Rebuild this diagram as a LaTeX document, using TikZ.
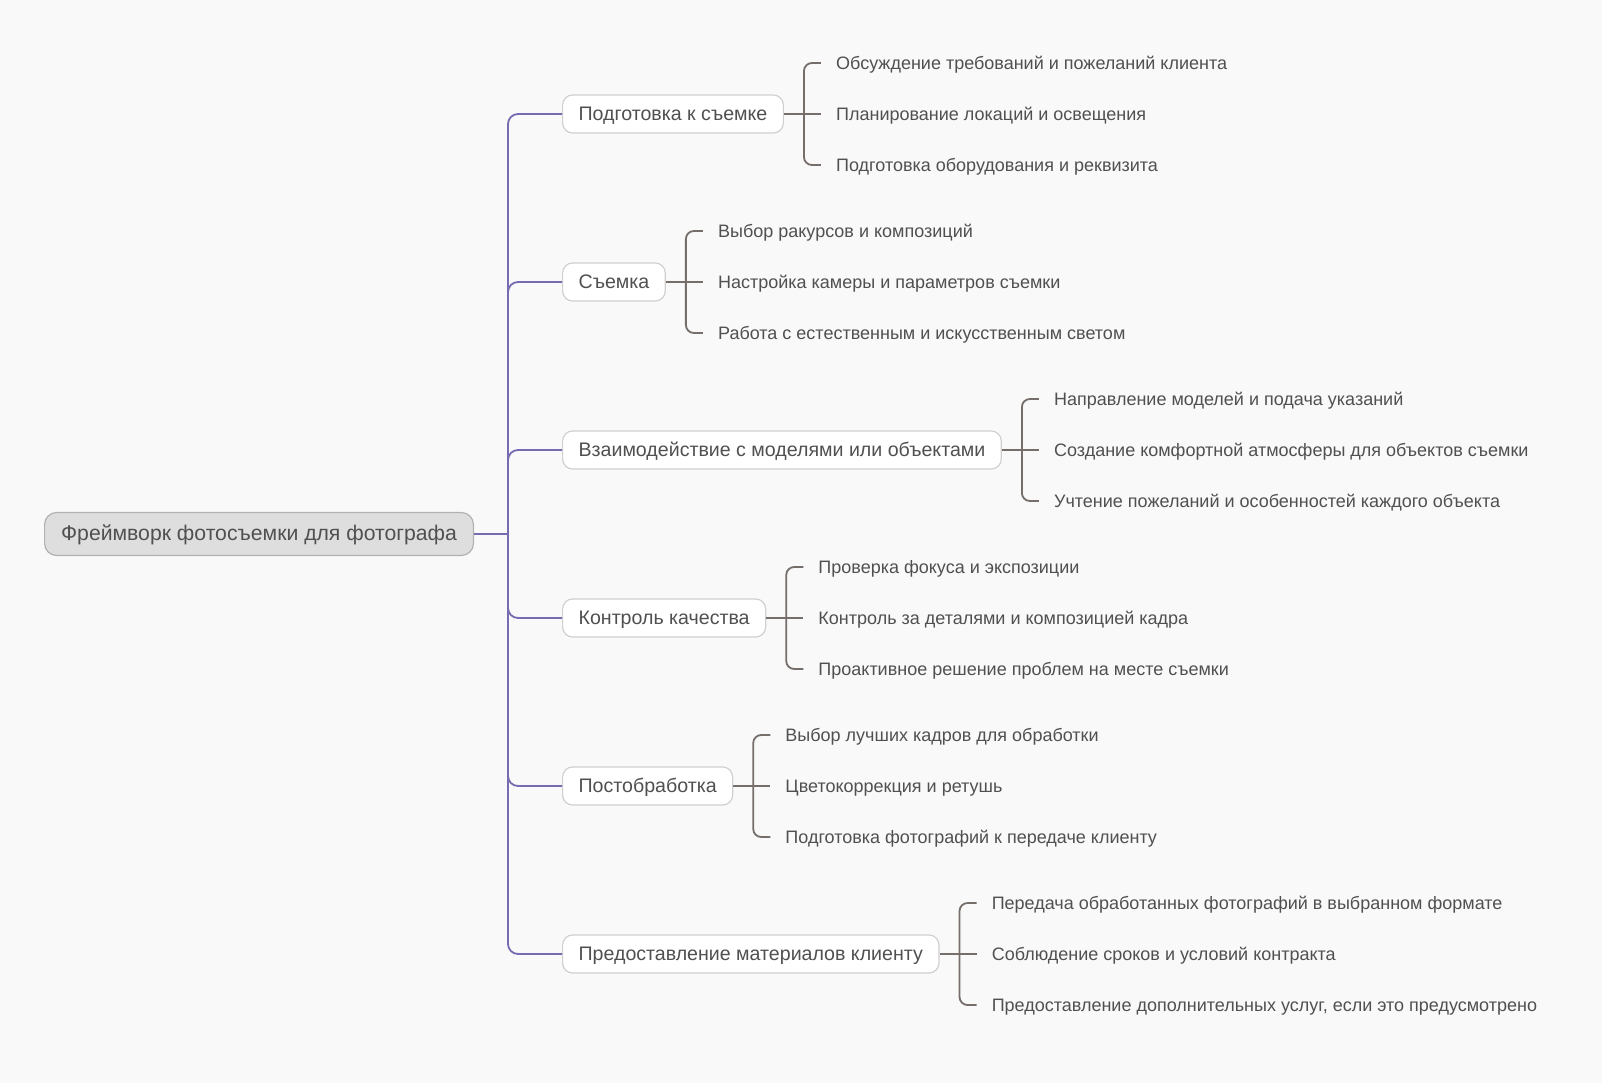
\documentclass[tikz,border=0pt]{standalone}
\usepackage{fontspec}
\setmainfont{Liberation Sans}
\definecolor{bg}{RGB}{249,249,249}
\definecolor{trunkc}{RGB}{118,108,178}
\definecolor{brc}{RGB}{118,110,106}
\definecolor{txt}{RGB}{80,80,80}
\definecolor{rootfill}{RGB}{222,222,222}
\definecolor{rootdraw}{RGB}{178,178,178}
\definecolor{boxdraw}{RGB}{208,208,208}
\tikzset{
  rootbox/.style={draw=rootdraw, fill=rootfill, line width=1.2pt, rounded corners=12pt, minimum height=43pt, inner xsep=16.5pt, text height=16.5pt, text depth=3pt, anchor=west, text=txt, font=\fontsize{21.2}{26}\selectfont},
  branchbox/.style={draw=boxdraw, fill=white, line width=1.2pt, rounded corners=10pt, minimum height=38pt, inner xsep=16pt, text height=16pt, text depth=2.5pt, anchor=west, text=txt, font=\fontsize{19.6}{24}\selectfont},
  leaf/.style={inner xsep=15pt, inner ysep=2pt, text height=15.5pt, text depth=2pt, anchor=west, text=txt, font=\fontsize{18}{22}\selectfont},
  trunk/.style={draw=trunkc, line width=1.8pt, rounded corners=10pt},
  brk/.style={draw=brc, line width=1.8pt, rounded corners=8pt},
}
\begin{document}
\begin{tikzpicture}[x=1pt,y=-1pt]
\fill[bg] (0,0) rectangle (1602,1083);
\useasboundingbox (0,0) rectangle (1602,1083);

\node[rootbox] (root) at (44,534) {Фреймворк фотосъемки для фотографа};
\coordinate (tr) at (508,534);

\node[branchbox] (b1) at (562,114) {Подготовка к съемке};
\node[branchbox] (b2) at (562,282) {Съемка};
\node[branchbox] (b3) at (562,450) {Взаимодействие с моделями или объектами};
\node[branchbox] (b4) at (562,618) {Контроль качества};
\node[branchbox] (b5) at (562,786) {Постобработка};
\node[branchbox] (b6) at (562,954) {Предоставление материалов клиенту};

\draw[draw=trunkc, line width=1.8pt] (root.east) -- (tr);
\foreach \b in {b1,b2,b3,b4,b5,b6}{
  \draw[trunk] (tr) |- (\b.west);
}

% groups
\foreach \b/\ta/\tb/\tc in {
  b1/{Обсуждение требований и пожеланий клиента}/{Планирование локаций и освещения}/{Подготовка оборудования и реквизита},
  b2/{Выбор ракурсов и композиций}/{Настройка камеры и параметров съемки}/{Работа с естественным и искусственным светом},
  b3/{Направление моделей и подача указаний}/{Создание комфортной атмосферы для объектов съемки}/{Учтение пожеланий и особенностей каждого объекта},
  b4/{Проверка фокуса и экспозиции}/{Контроль за деталями и композицией кадра}/{Проактивное решение проблем на месте съемки},
  b5/{Выбор лучших кадров для обработки}/{Цветокоррекция и ретушь}/{Подготовка фотографий к передаче клиенту},
  b6/{Передача обработанных фотографий в выбранном формате}/{Соблюдение сроков и условий контракта}/{Предоставление дополнительных услуг, если это предусмотрено}}{
  \coordinate (\b k) at ([xshift=20pt]\b.east);
  \node[leaf] (\b a) at ([xshift=37pt,yshift=51pt]\b.east) {\ta};
  \node[leaf] (\b b) at ([xshift=37pt]\b.east) {\tb};
  \node[leaf] (\b c) at ([xshift=37pt,yshift=-51pt]\b.east) {\tc};
  \draw[brk] (\b.east) -- (\b b.west);
  \draw[brk] (\b k) |- (\b a.west);
  \draw[brk] (\b k) |- (\b c.west);
}
\end{tikzpicture}
\end{document}
